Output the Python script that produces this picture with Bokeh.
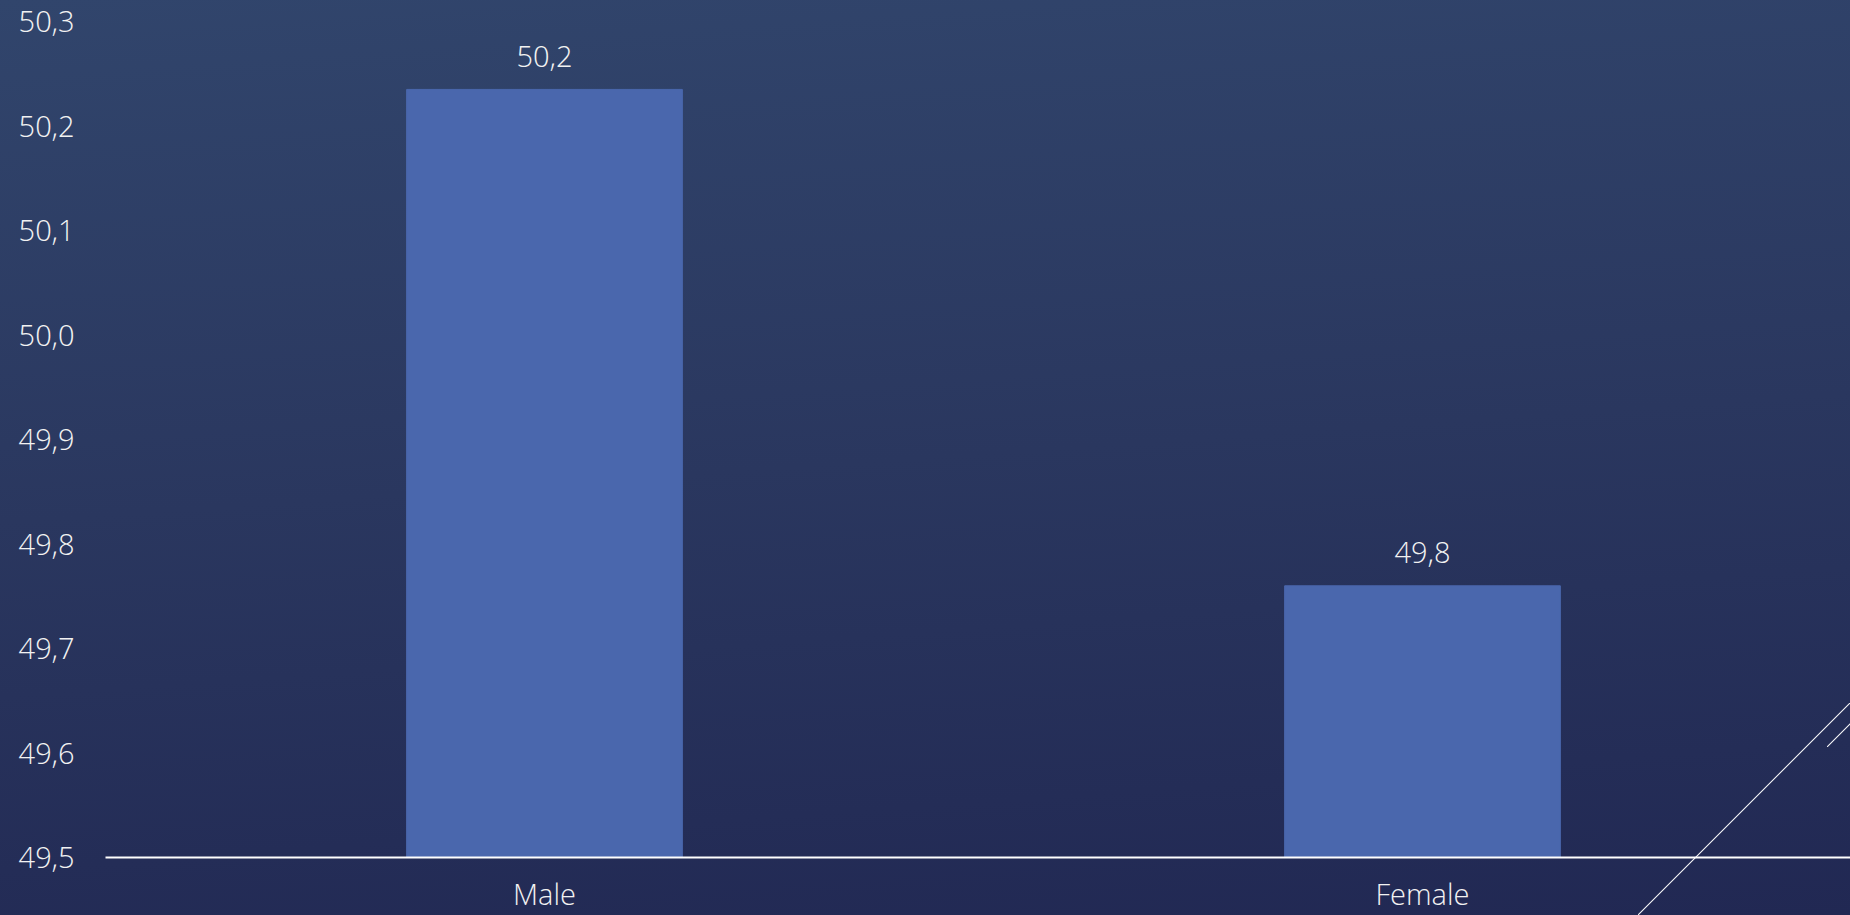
from bokeh.plotting import figure
from bokeh.models import Range1d, FixedTicker, ColumnDataSource
from bokeh.core.properties import value
from bokeh.embed import file_html
from bokeh.resources import INLINE

# ---- data ----
categories = ["Male", "Female"]
values = [50.235, 49.76]
value_labels = [f"{v:.1f}".replace(".", ",") for v in values]
y_ticks = [49.5, 49.6, 49.7, 49.8, 49.9, 50.0, 50.1, 50.2, 50.3]
y_tick_labels = [f"{t:.1f}".replace(".", ",") for t in y_ticks]

# ---- layout constants ----
W, H = 1850, 915
FRAME_LEFT = 105
FRAME_TOP = 21
AXIS_Y = 857
Y_MIN, Y_MAX = 49.5, 50.3
PX_PER_CAT = 878
X_END = (W - FRAME_LEFT) / PX_PER_CAT

FONT = "Open Sans Light, Open Sans"
TXT = "#F2F2F2"

# background gradient + two thin decorative slide lines (CSS layers)
line_grad = ("linear-gradient(to bottom right, transparent calc(50% - 1px), "
             "rgba(255,255,255,0.92) 50%, transparent calc(50% + 1px))")
bg = {
    "background-image": ", ".join([line_grad, line_grad,
        "linear-gradient(176deg, #31456C 0%, #2A375F 50%, #212853 100%)"]),
    "background-size": "212px 212px, 24px 24px, 100% 100%",
    "background-position": "1638px 703px, 1827px 723px, 0 0",
    "background-repeat": "no-repeat",
}

p = figure(width=W, height=H, output_backend="svg", toolbar_location=None,
           x_range=Range1d(0, X_END), y_range=Range1d(Y_MIN, Y_MAX),
           min_border_left=FRAME_LEFT, min_border_top=FRAME_TOP,
           min_border_right=0, min_border_bottom=H - AXIS_Y)
p.styles = bg
p.background_fill_color = None
p.border_fill_color = None
p.outline_line_color = None
p.grid.visible = False

xs = [i + 0.5 for i in range(len(categories))]
src = ColumnDataSource(dict(x=xs, top=values, lab=value_labels))
p.vbar(x="x", top="top", bottom=Y_MIN, width=0.314, source=src,
       fill_color="#4A67AD", line_color="#4A67AD", line_width=1)
p.text(x="x", y="top", text="lab", source=src, y_offset=-33,
       text_align="center", text_baseline="alphabetic",
       text_font=value(FONT), text_font_size="29px", text_color=TXT)

# y axis
ya = p.yaxis[0]
ya.ticker = FixedTicker(ticks=y_ticks)
ya.major_label_overrides = {t: l for t, l in zip(y_ticks, y_tick_labels)}
ya.axis_line_color = None
ya.major_tick_line_color = None
ya.minor_tick_line_color = None
ya.major_tick_out = 0
ya.major_tick_in = 0
ya.major_label_standoff = 31
ya.major_label_text_font = FONT
ya.major_label_text_font_size = "29px"
ya.major_label_text_color = TXT

# x axis
xa = p.xaxis[0]
xa.ticker = FixedTicker(ticks=xs)
xa.major_label_overrides = {x: c for x, c in zip(xs, categories)}
xa.axis_line_color = "white"
xa.axis_line_width = 2
xa.major_tick_line_color = None
xa.minor_tick_line_color = None
xa.major_tick_out = 0
xa.major_tick_in = 0
xa.major_label_standoff = 16
xa.major_label_text_font = FONT
xa.major_label_text_font_size = "29px"
xa.major_label_text_color = TXT

open("out.html", "w").write(file_html(p, INLINE))
